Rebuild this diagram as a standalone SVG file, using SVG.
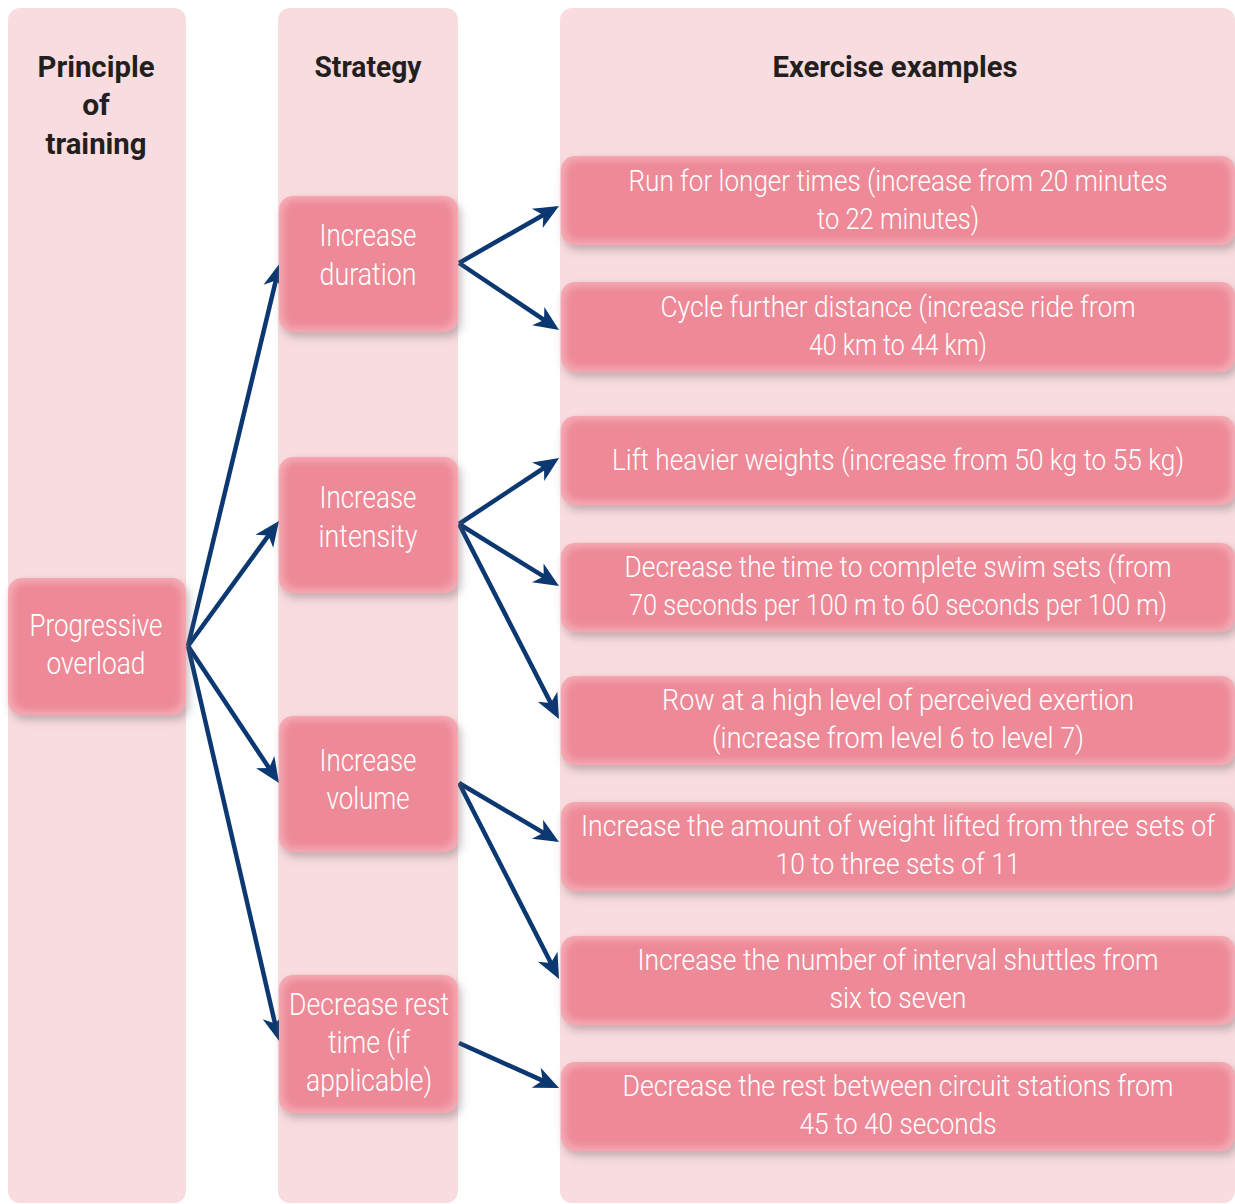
<svg xmlns="http://www.w3.org/2000/svg" width="1235" height="1204" viewBox="0 0 1235 1204">
  <style>
    .col { fill: #f8dcdf; }
    .card { fill: #f4aab4; filter: url(#card); }
    .hd { font-family: Roboto, "Liberation Sans", sans-serif; font-weight: 700; font-size: 30px; fill: #231f20; text-anchor: middle; }
    .lb { font-family: Roboto, "Liberation Sans", sans-serif; font-weight: 300; font-size: 31px; fill: #ffffff; text-anchor: middle; }
    .ex { font-family: Roboto, "Liberation Sans", sans-serif; font-weight: 300; font-size: 29px; fill: #ffffff; text-anchor: middle; }
    .arr { fill: none; stroke: #0c3872; stroke-width: 4.5; marker-end: url(#head); }
  </style>
  <defs>
    <!-- card look: soft grey drop shadow, light rim, darker blurred core -->
    <filter id="card" x="-10%" y="-20%" width="125%" height="150%">
      <feGaussianBlur in="SourceAlpha" stdDeviation="4" result="b"/>
      <feOffset in="b" dx="3" dy="5" result="o"/>
      <feFlood flood-color="#6e6468" flood-opacity="0.4"/>
      <feComposite in2="o" operator="in" result="shadow"/>
      <feMorphology in="SourceAlpha" operator="erode" radius="4" result="er"/>
      <feGaussianBlur in="er" stdDeviation="3" result="erb"/>
      <feFlood flood-color="#ee8a98"/>
      <feComposite in2="erb" operator="in" result="core"/>
      <feMerge>
        <feMergeNode in="shadow"/>
        <feMergeNode in="SourceGraphic"/>
        <feMergeNode in="core"/>
      </feMerge>
    </filter>
    <!-- notched arrowhead; its tip sits 10px past the end of the line -->
    <marker id="head" markerUnits="userSpaceOnUse" markerWidth="1" markerHeight="1" refX="0" refY="0" orient="auto" overflow="visible">
      <path d="M10,0 L-15,-11 L-8,0 L-15,11 Z" fill="#0c3872"/>
    </marker>
  </defs>

  <!-- column backgrounds -->
  <g id="columns">
    <rect class="col" x="8" y="8" width="178" height="1195" rx="12"/>
    <rect class="col" x="278" y="8" width="180" height="1195" rx="12"/>
    <rect class="col" x="560" y="8" width="675" height="1195" rx="12"/>
  </g>

  <!-- column headings -->
  <g id="headings">
    <text class="hd" x="96" y="77" textLength="117" lengthAdjust="spacingAndGlyphs">Principle</text>
    <text class="hd" x="96" y="115">of</text>
    <text class="hd" x="96" y="154" textLength="101" lengthAdjust="spacingAndGlyphs">training</text>
    <text class="hd" x="368" y="77" textLength="107" lengthAdjust="spacingAndGlyphs">Strategy</text>
    <text class="hd" x="895" y="77" textLength="245" lengthAdjust="spacingAndGlyphs">Exercise examples</text>
  </g>

  <!-- connectors -->
  <g id="connectors">
    <path class="arr" d="M188,646 L277.7,272.7"/>
    <path class="arr" d="M188,646 L273.1,529.1"/>
    <path class="arr" d="M188,646 L273.5,774.7"/>
    <path class="arr" d="M188,646 L276.8,1031.3"/>
    <path class="arr" d="M459,263 L550.3,211"/>
    <path class="arr" d="M459,263 L550.7,324.4"/>
    <path class="arr" d="M459,524 L550.7,463.5"/>
    <path class="arr" d="M459,524 L550.5,580.7"/>
    <path class="arr" d="M459,524 L554.4,710.1"/>
    <path class="arr" d="M459,783 L550.4,836.9"/>
    <path class="arr" d="M459,783 L554.5,970.1"/>
    <path class="arr" d="M459,1043 L549.9,1083.9"/>
  </g>

  <!-- principle -->
  <g id="progressive-overload">
    <rect class="card" x="8" y="578" width="178" height="137" rx="14"/>
    <text class="lb" x="96" y="636" textLength="133" lengthAdjust="spacingAndGlyphs">Progressive</text>
    <text class="lb" x="96" y="674" textLength="99" lengthAdjust="spacingAndGlyphs">overload</text>
  </g>

  <!-- strategies -->
  <g id="increase-duration">
    <rect class="card" x="279" y="196" width="179" height="136" rx="14"/>
    <text class="lb" x="368" y="246" textLength="97" lengthAdjust="spacingAndGlyphs">Increase</text>
    <text class="lb" x="368" y="285" textLength="97" lengthAdjust="spacingAndGlyphs">duration</text>
  </g>
  <g id="increase-intensity">
    <rect class="card" x="279" y="457" width="179" height="136" rx="14"/>
    <text class="lb" x="368" y="508" textLength="97" lengthAdjust="spacingAndGlyphs">Increase</text>
    <text class="lb" x="368" y="547" textLength="99" lengthAdjust="spacingAndGlyphs">intensity</text>
  </g>
  <g id="increase-volume">
    <rect class="card" x="279" y="716" width="179" height="136" rx="14"/>
    <text class="lb" x="368" y="771" textLength="97" lengthAdjust="spacingAndGlyphs">Increase</text>
    <text class="lb" x="368" y="809" textLength="83" lengthAdjust="spacingAndGlyphs">volume</text>
  </g>
  <g id="decrease-rest">
    <rect class="card" x="279" y="975" width="179" height="138" rx="14"/>
    <text class="lb" x="369" y="1015" textLength="160" lengthAdjust="spacingAndGlyphs">Decrease rest</text>
    <text class="lb" x="369" y="1053" textLength="82" lengthAdjust="spacingAndGlyphs">time (if</text>
    <text class="lb" x="369" y="1091" textLength="126" lengthAdjust="spacingAndGlyphs">applicable)</text>
  </g>

  <!-- exercise examples -->
  <g id="ex-run">
    <rect class="card" x="561" y="156" width="674" height="89" rx="14"/>
    <text class="ex" x="898" y="191" textLength="539" lengthAdjust="spacingAndGlyphs">Run for longer times (increase from 20 minutes</text>
    <text class="ex" x="898" y="229" textLength="162" lengthAdjust="spacingAndGlyphs">to 22 minutes)</text>
  </g>
  <g id="ex-cycle">
    <rect class="card" x="561" y="282" width="674" height="90" rx="14"/>
    <text class="ex" x="898" y="317" textLength="475" lengthAdjust="spacingAndGlyphs">Cycle further distance (increase ride from</text>
    <text class="ex" x="898" y="355" textLength="178" lengthAdjust="spacingAndGlyphs">40 km to 44 km)</text>
  </g>
  <g id="ex-lift">
    <rect class="card" x="561" y="416" width="674" height="89" rx="14"/>
    <text class="ex" x="898" y="470" textLength="572" lengthAdjust="spacingAndGlyphs">Lift heavier weights (increase from 50 kg to 55 kg)</text>
  </g>
  <g id="ex-swim">
    <rect class="card" x="561" y="543" width="674" height="89" rx="14"/>
    <text class="ex" x="898" y="577" textLength="547" lengthAdjust="spacingAndGlyphs">Decrease the time to complete swim sets (from</text>
    <text class="ex" x="898" y="615" textLength="538" lengthAdjust="spacingAndGlyphs">70 seconds per 100 m to 60 seconds per 100 m)</text>
  </g>
  <g id="ex-row">
    <rect class="card" x="561" y="676" width="674" height="89" rx="14"/>
    <text class="ex" x="898" y="710" textLength="472" lengthAdjust="spacingAndGlyphs">Row at a high level of perceived exertion</text>
    <text class="ex" x="898" y="748" textLength="372" lengthAdjust="spacingAndGlyphs">(increase from level 6 to level 7)</text>
  </g>
  <g id="ex-weight">
    <rect class="card" x="561" y="802" width="674" height="89" rx="14"/>
    <text class="ex" x="898" y="836" textLength="634" lengthAdjust="spacingAndGlyphs">Increase the amount of weight lifted from three sets of</text>
    <text class="ex" x="898" y="874" textLength="245" lengthAdjust="spacingAndGlyphs">10 to three sets of 11</text>
  </g>
  <g id="ex-shuttles">
    <rect class="card" x="561" y="936" width="674" height="89" rx="14"/>
    <text class="ex" x="898" y="970" textLength="521" lengthAdjust="spacingAndGlyphs">Increase the number of interval shuttles from</text>
    <text class="ex" x="898" y="1008" textLength="137" lengthAdjust="spacingAndGlyphs">six to seven</text>
  </g>
  <g id="ex-circuit">
    <rect class="card" x="561" y="1062" width="674" height="89" rx="14"/>
    <text class="ex" x="898" y="1096" textLength="551" lengthAdjust="spacingAndGlyphs">Decrease the rest between circuit stations from</text>
    <text class="ex" x="898" y="1134" textLength="197" lengthAdjust="spacingAndGlyphs">45 to 40 seconds</text>
  </g>
</svg>
